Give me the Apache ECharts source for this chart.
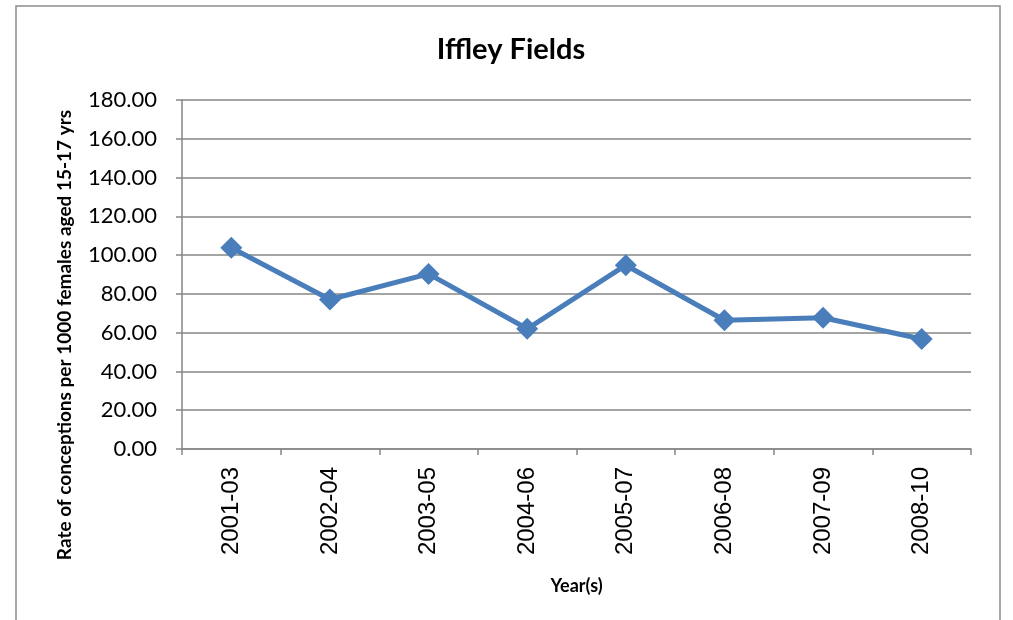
<!DOCTYPE html>
<html>
<head>
<meta charset="utf-8">
<script src="https://cdn.jsdelivr.net/npm/echarts@6/dist/echarts.min.js"></script>
<style>
    html, body { margin: 0; padding: 0; background: #fff; }
    #chart { width: 1013px; height: 620px; }
</style>
</head>
<body>
<div id="chart"></div>
<script>
    // periods and rate per 1000 females aged 15-17
    var years = ['2001-03', '2002-04', '2003-05', '2004-06', '2005-07', '2006-08', '2007-09', '2008-10'];
    var rates = [103.8, 77.1, 90.3, 62.0, 94.8, 66.4, 67.7, 56.7];
    var yMin = 0, yMax = 180, yStep = 20;

    var myChart = echarts.init(document.getElementById('chart'));
    var options = {
        backgroundColor: '#fff',
        animation: false,
        title: {
            text: 'Iffley Fields',
            left: 506,
            textAlign: 'center',
            top: 30,
            textStyle: {
                fontFamily: 'Lato',
                fontWeight: 'bold',
                fontSize: 29,
                color: '#000'
            }
        },
        grid: {
            left: 182,
            right: 42,
            top: 100,
            bottom: 171
        },
        graphic: [
            {
                // chart frame, runs off the bottom like the original
                type: 'rect',
                shape: { x: 16, y: 6, width: 984, height: 640 },
                style: { fill: null, stroke: '#8c8c8c', lineWidth: 1.5 }
            },
            {
                type: 'text',
                x: 65,
                y: 335,
                rotation: Math.PI / 2,
                style: {
                    text: 'Rate of conceptions per 1000 females aged 15-17 yrs',
                    fontFamily: 'Lato',
                    fontWeight: 'bold',
                    fontSize: 19,
                    fill: '#000',
                    align: 'center',
                    verticalAlign: 'middle'
                }
            }
        ],
        xAxis: {
            type: 'category',
            data: years,
            boundaryGap: true,
            name: 'Year(s)',
            nameLocation: 'middle',
            nameGap: 128,
            nameTextStyle: {
                fontFamily: 'Lato',
                fontWeight: 'bold',
                fontSize: 18,
                color: '#000'
            },
            axisLine: { lineStyle: { color: '#868686', width: 1.5 } },
            axisTick: { show: true, length: 6, lineStyle: { color: '#868686', width: 1.5 } },
            axisLabel: {
                rotate: 90,
                margin: 18,
                fontFamily: 'Liberation Sans',
                fontSize: 24,
                color: '#000'
            }
        },
        yAxis: {
            type: 'value',
            min: yMin,
            max: yMax,
            interval: yStep,
            axisLine: { show: true, lineStyle: { color: '#868686', width: 1.5 } },
            axisTick: { show: true, length: 6, lineStyle: { color: '#868686', width: 1.5 } },
            splitLine: { show: true, lineStyle: { color: '#868686', width: 1.5 } },
            axisLabel: {
                margin: 25,
                fontFamily: 'Lato',
                fontSize: 22,
                color: '#000',
                formatter: function (v) { return v.toFixed(2); }
            }
        },
        series: [{
            type: 'line',
            data: rates,
            symbol: 'diamond',
            symbolSize: 22,
            lineStyle: { color: '#4a7ebb', width: 5 },
            itemStyle: { color: '#4a7ebb' }
        }]
    };
    myChart.setOption(options);
</script>
</body>
</html>
